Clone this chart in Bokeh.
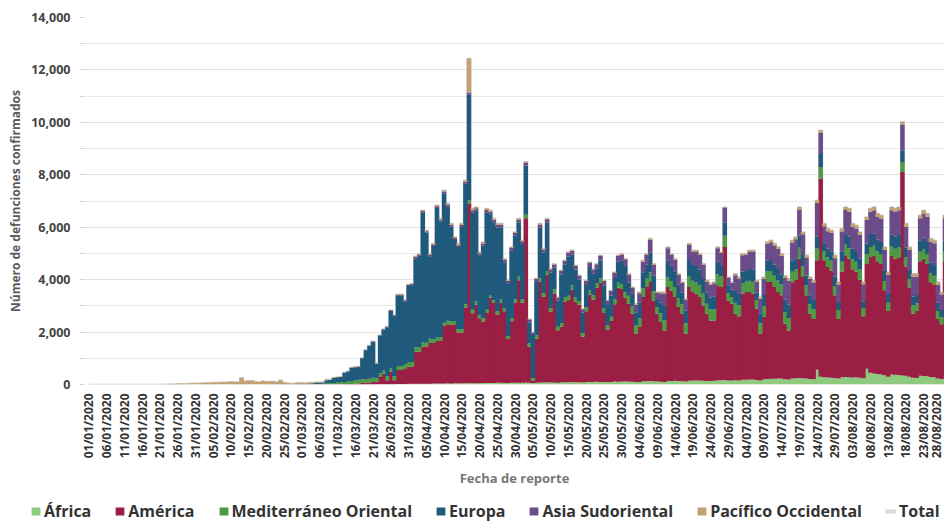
import math
from bokeh.plotting import figure
from bokeh.layouts import column
from bokeh.models import ColumnDataSource, Range1d, FixedTicker, Legend, LegendItem, NumeralTickFormatter
from bokeh.embed import file_html
from bokeh.resources import INLINE

# ---------------- data (daily deaths by WHO region, from 01/01/2020) ----------------
regions = ["África", "América", "Mediterráneo Oriental", "Europa", "Asia Sudoriental", "Pacífico Occidental"]
colors = ["#8fcb7e", "#9b1f45", "#4f9a44", "#1f5a7d", "#6a4c8a", "#c3a172"]

africa = ([0] * 31 + [0] * 29
          + [0] * 13 + [1, 2, 1, 2, 3, 2, 4, 3, 5, 6, 8, 10, 12, 14, 16, 18, 20, 25]
          + [25, 28, 30, 30, 25, 32, 35, 40, 38, 40, 45, 42, 45, 50, 48, 52, 55, 50, 52, 48,
             55, 58, 60, 55, 62, 65, 58, 60, 65, 70]
          + [70, 65, 75, 70, 60, 70, 80, 75, 85, 80, 75, 70, 85, 90, 88, 95, 90, 85, 80, 95,
             100, 95, 105, 100, 95, 90, 100, 110, 105, 115, 110]
          + [110, 105, 95, 100, 120, 125, 130, 120, 110, 105, 100, 130, 135, 140, 130, 125, 115, 145, 150, 155,
             150, 140, 135, 130, 140, 160, 165, 170, 150, 155]
          + [160, 150, 180, 185, 190, 195, 170, 150, 200, 210, 215, 220, 225, 230, 200, 190, 230, 240, 250, 240,
             230, 210, 200, 560, 300, 280, 270, 260, 250, 230, 280]
          + [290, 280, 270, 275, 260, 240, 600, 450, 420, 400, 380, 350, 300, 380, 370, 360, 340, 330, 300, 260,
             250, 330, 320, 310, 290, 280, 230, 210, 300])

america = ([0] * 31 + [0] * 29
           + [0, 1, 3, 2, 6, 4, 5, 6, 7, 5, 10, 12, 10, 15, 20, 30, 40, 55, 60, 70,
              90, 100, 280, 400, 150, 470, 150, 535, 535, 600, 660]
           + [660, 1230, 1230, 1420, 1420, 1550, 1550, 1620, 1620, 2190, 2250, 2250, 2250, 1935, 1935, 2890, 6850, 2670, 2990, 2480,
              2350, 2670, 3245, 3055, 2610, 3055, 2735, 1680, 2350, 3055]
           + [3910, 3055, 6265, 1370, 90, 1680, 3845, 3272, 4100, 2700, 3400, 2000, 2120, 3080, 3145, 3530, 3080, 2954, 1745, 2700,
              3335, 3145, 3590, 3780, 2635, 2000, 2318, 2954, 3590, 3527, 3209]
           + [2971, 2595, 1840, 2090, 3216, 3593, 3780, 3089, 2590, 2276, 1963, 3588, 3455, 3196, 2824, 2575, 1820, 3573, 3377, 3308,
              3186, 2878, 2565, 2315, 2305, 3622, 3553, 5077, 3059, 2926]
           + [2540, 2450, 3283, 3342, 3337, 3268, 2720, 1785, 2372, 3700, 3695, 3498, 3302, 3170, 2117, 1873, 3670, 3760, 4550, 3860,
              3170, 2490, 2300, 4177, 7556, 4457, 4210, 4090, 3150, 2270, 4020]
           + [4638, 4520, 4130, 4025, 3740, 2360, 4000, 4415, 4480, 4300, 4220, 3250, 2500, 4520, 4430, 4490, 7770, 4170, 3400, 2440,
              2550, 4370, 4480, 4290, 3610, 3520, 2270, 2090, 4400])

mediterraneo = ([0] * 31
                + [0] * 19 + [2, 0, 2, 1, 4, 4, 3, 7, 4, 8]
                + [12, 11, 12, 15, 15, 17, 21, 49, 43, 54, 63, 75, 85, 97, 113, 129, 135, 147, 149, 150,
                   160, 130, 135, 130, 145, 150, 155, 150, 145, 160, 170]
                + [170, 160, 175, 165, 150, 160, 140, 150, 145, 130, 140, 135, 125, 130, 120, 115, 125, 130, 120, 110,
                   120, 125, 110, 115, 120, 125, 120, 110, 120, 130]
                + [130, 125, 140, 120, 100, 130, 140, 135, 145, 140, 150, 130, 145, 150, 155, 160, 150, 145, 140, 155,
                   165, 160, 170, 175, 165, 160, 170, 180, 190, 195, 200]
                + [300, 280, 320, 340, 330, 320, 360, 350, 260, 330, 380, 370, 360, 380, 350, 360, 400, 420, 430, 440,
                   450, 440, 380, 420, 430, 420, 400, 430, 280, 260]
                + [420, 420, 410, 400, 430, 440, 330, 400, 420, 410, 420, 430, 440, 410, 450, 470, 400, 400, 420, 410,
                   380, 360, 370, 450, 440, 350, 360, 370, 360, 340, 380]
                + [400, 400, 380, 380, 390, 300, 380, 380, 390, 380, 380, 350, 320, 380, 380, 380, 380, 340, 320, 320,
                   300, 360, 370, 380, 340, 350, 300, 270, 360])

europa = ([0] * 31
          + [0] * 20 + [1, 1, 2, 4, 3, 2, 5, 4, 8]
          + [10, 18, 27, 30, 40, 50, 55, 110, 120, 190, 200, 200, 350, 380, 500, 500, 490, 800, 1100, 1250,
             1380, 560, 1450, 1560, 1880, 2180, 2300, 2700, 2700, 2400, 2900]
          + [2935, 3402, 3475, 4950, 4200, 3148, 3560, 4920, 4417, 4940, 4345, 3593, 3090, 3130, 3902, 4598, 4030, 3710, 3478, 2292,
             2765, 3717, 3080, 2965, 3193, 2750, 1752, 2015, 2575, 2415]
          + [2070, 2115, 1875, 815, 1640, 2030, 1918, 1547, 1844, 1349, 832, 1000, 1850, 1248, 1494, 1160, 1065, 825, 777, 847,
             884, 826, 550, 676, 892, 781, 800, 823, 805, 905, 1026]
          + [500, 430, 480, 600, 620, 530, 760, 600, 300, 420, 550, 650, 580, 600, 500, 440, 480, 650, 600, 620,
             600, 570, 430, 450, 480, 500, 440, 500, 300, 270]
          + [450, 430, 440, 400, 450, 470, 280, 380, 420, 400, 420, 430, 440, 400, 480, 520, 420, 420, 450, 430,
             380, 340, 350, 450, 500, 330, 350, 360, 350, 310, 400]
          + [440, 450, 400, 410, 420, 280, 400, 500, 480, 450, 460, 380, 330, 450, 460, 470, 450, 380, 350, 340,
             310, 420, 440, 460, 400, 410, 320, 270, 420])

asia = ([0] * 31 + [0] * 29
        + [0] * 11 + [1, 0, 1, 2, 2, 3, 2, 4, 5, 6, 8, 10, 12, 15, 18, 20, 25, 30, 35, 40]
        + [40, 45, 50, 55, 50, 60, 55, 65, 70, 60, 65, 70, 75, 70, 80, 75, 80, 85, 80, 75,
           90, 85, 95, 90, 100, 95, 90, 85, 100, 105]
        + [110, 105, 115, 100, 90, 110, 120, 125, 130, 120, 125, 115, 130, 140, 145, 150, 140, 135, 130, 150,
           160, 165, 170, 175, 165, 160, 180, 200, 210, 220, 230]
        + [300, 270, 300, 350, 400, 380, 480, 400, 230, 350, 480, 460, 420, 440, 380, 370, 420, 540, 520, 550,
           560, 540, 420, 490, 510, 500, 460, 560, 280, 270]
        + [600, 590, 620, 610, 650, 680, 420, 560, 620, 650, 680, 720, 760, 700, 820, 900, 700, 720, 1010, 790,
           680, 620, 670, 1290, 800, 620, 660, 700, 710, 660, 760]
        + [890, 940, 840, 865, 890, 640, 895, 846, 880, 870, 890, 800, 730, 920, 945, 950, 960, 800, 760, 755,
           710, 860, 915, 955, 810, 825, 680, 590, 860])

pacifico = ([0, 0, 0, 0, 0, 0, 0, 0, 0, 0, 1, 0, 0, 0, 0, 0, 1, 0, 1, 3,
             3, 11, 8, 16, 15, 24, 26, 26, 38, 43, 46]
            + [45, 57, 64, 66, 73, 73, 86, 89, 97, 108, 97, 98, 254, 121, 143, 142, 105, 98, 136, 114,
               118, 109, 97, 150, 71, 52, 29, 44, 47]
            + [42, 31, 38, 31, 30, 28, 27, 22, 17, 22, 11, 8, 15, 13, 14, 13, 16, 8, 12, 10,
               8, 15, 10, 10, 15, 14, 12, 16, 14, 17, 20]
            + [20, 25, 30, 30, 35, 40, 35, 45, 40, 50, 55, 50, 45, 60, 55, 60, 1300, 65, 55, 50,
               60, 55, 60, 50, 55, 50, 45, 50, 40, 45]
            + [40, 35, 30, 25, 20, 30, 35, 30, 25, 30, 28, 20, 25, 30, 28, 25, 22, 20, 18, 25,
               30, 28, 25, 22, 20, 18, 22, 25, 28, 30, 25]
            + [47, 38, 46, 47, 51, 44, 56, 51, 37, 46, 54, 49, 42, 44, 44, 40, 37, 47, 43, 47,
               46, 42, 43, 40, 45, 45, 38, 37, 31, 29]
            + [58, 60, 59, 55, 63, 67, 53, 61, 68, 68, 72, 77, 80, 82, 83, 83, 82, 90, 94, 90,
               88, 80, 83, 102, 104, 101, 98, 104, 108, 100, 108]
            + [116, 121, 118, 120, 120, 90, 118, 120, 124, 120, 126, 117, 112, 124, 126, 124, 120, 118, 117, 113,
               108, 116, 122, 125, 116, 117, 110, 97, 116])

tick_labels = ["01/01/2020", "06/01/2020", "11/01/2020", "16/01/2020", "21/01/2020", "26/01/2020", "31/01/2020",
               "05/02/2020", "10/02/2020", "15/02/2020", "20/02/2020", "25/02/2020", "01/03/2020", "06/03/2020",
               "11/03/2020", "16/03/2020", "21/03/2020", "26/03/2020", "31/03/2020", "05/04/2020", "10/04/2020",
               "15/04/2020", "20/04/2020", "25/04/2020", "30/04/2020", "05/05/2020", "10/05/2020", "15/05/2020",
               "20/05/2020", "25/05/2020", "30/05/2020", "04/06/2020", "09/06/2020", "14/06/2020", "19/06/2020",
               "24/06/2020", "29/06/2020", "04/07/2020", "09/07/2020", "14/07/2020", "19/07/2020", "24/07/2020",
               "29/07/2020", "03/08/2020", "08/08/2020", "13/08/2020", "18/08/2020", "23/08/2020", "28/08/2020"]
y_ticks = [0, 2000, 4000, 6000, 8000, 10000, 12000, 14000]
y_minor = [1000, 3000, 5000, 7000, 9000, 11000, 13000]

# ---------------- build ----------------
series = [africa, america, mediterraneo, europa, asia, pacifico]
keys = ["africa", "america", "mediterraneo", "europa", "asia", "pacifico"]
n = min(len(s) for s in series)
days = list(range(n))
data = {"day": days}
for k, s in zip(keys, series):
    data[k] = s[:n]
data["total"] = [sum(v) for v in zip(*[data[k] for k in keys])]
source = ColumnDataSource(data)
tick_days = [5 * i for i in range(len(tick_labels))]

p = figure(width=944, height=490, output_backend="svg", toolbar_location=None,
           x_range=Range1d(-1.21, 240.84), y_range=Range1d(0, 14000),
           min_border_left=84, min_border_right=0, min_border_top=17, min_border_bottom=106)
p.outline_line_color = None
p.background_fill_color = "white"
p.border_fill_color = "white"
p.frame_align = False

total_r = p.step(x="day", y="total", source=source, mode="center", line_color="#cfcfcf", line_width=1.5)
bars = p.vbar_stack(keys, x="day", width=1.25, fill_color=colors, line_color=None, source=source)

# y axis
p.yaxis.ticker = FixedTicker(ticks=y_ticks, minor_ticks=y_minor)
p.yaxis.formatter = NumeralTickFormatter(format="0,0")
p.yaxis.axis_line_color = None
p.yaxis.major_tick_line_color = "#d4d4d4"
p.yaxis.major_tick_in = 0
p.yaxis.major_tick_out = 5
p.yaxis.minor_tick_line_color = "#d4d4d4"
p.yaxis.minor_tick_in = 0
p.yaxis.minor_tick_out = 5
p.yaxis.major_label_standoff = 9
p.yaxis.major_label_text_font = "Open Sans"
p.yaxis.major_label_text_font_style = "bold"
p.yaxis.major_label_text_font_size = "12.5px"
p.yaxis.major_label_text_color = "#444444"
p.yaxis.axis_label = "Número de defunciones confirmados"
p.yaxis.axis_label_text_font = "Open Sans"
p.yaxis.axis_label_text_font_style = "bold"
p.yaxis.axis_label_text_font_size = "12px"
p.yaxis.axis_label_text_color = "#5a5a5a"
p.yaxis.axis_label_standoff = 4

p.ygrid.ticker = FixedTicker(ticks=y_ticks, minor_ticks=y_minor)
p.ygrid.grid_line_color = "#e2e2e2"
p.ygrid.minor_grid_line_color = "#e9e9e9"
p.xgrid.grid_line_color = None

# x axis
p.xaxis.ticker = FixedTicker(ticks=tick_days)
p.xaxis.major_label_overrides = {d: lab for d, lab in zip(tick_days, tick_labels)}
p.xaxis.major_label_orientation = math.pi / 2
p.xaxis.axis_line_color = None
p.xaxis.major_tick_line_color = None
p.xaxis.major_tick_out = 0
p.xaxis.major_tick_in = 0
p.xaxis.minor_tick_line_color = None
p.xaxis.minor_tick_out = 0
p.xaxis.major_label_standoff = 9
p.xaxis.major_label_text_font = "Open Sans"
p.xaxis.major_label_text_font_style = "bold"
p.xaxis.major_label_text_font_size = "12px"
p.xaxis.major_label_text_color = "#333333"
p.xaxis.axis_label = "Fecha de reporte"
p.xaxis.axis_label_text_font = "Open Sans"
p.xaxis.axis_label_text_font_style = "bold"
p.xaxis.axis_label_text_font_size = "13px"
p.xaxis.axis_label_text_color = "#777777"
p.xaxis.axis_label_standoff = 8

# legend strip: same series drawn out of view, used only to carry the legend
q = figure(width=944, height=32, output_backend="svg", toolbar_location=None,
           x_range=Range1d(-1.21, 240.84), y_range=Range1d(1e9, 2e9),
           min_border_left=0, min_border_right=0, min_border_top=0, min_border_bottom=0)
q.frame_align = False
q.axis.visible = False
q.grid.visible = False
q.outline_line_color = None
q.border_fill_color = "white"
q.background_fill_color = "white"
swatches = q.vbar_stack(keys, x="day", width=1.0, fill_color=colors, line_color=None, source=source)
total_swatch = q.line(x="day", y="total", source=source, line_color="#d9d9d9", line_width=4)
items = [LegendItem(label=name, renderers=[r]) for name, r in zip(regions, swatches)]
items.append(LegendItem(label="Total", renderers=[total_swatch]))
legend = Legend(items=items, orientation="horizontal", location=(30, 0),
                glyph_width=11, glyph_height=10, label_standoff=3, spacing=23,
                padding=0, margin=0, border_line_color=None, background_fill_alpha=0,
                label_text_font="Open Sans", label_text_font_style="bold",
                label_text_font_size="16px", label_text_color="#333333")
q.add_layout(legend, "center")

layout = column(p, q, spacing=0)
open("out.html", "w").write(file_html(layout, INLINE))
